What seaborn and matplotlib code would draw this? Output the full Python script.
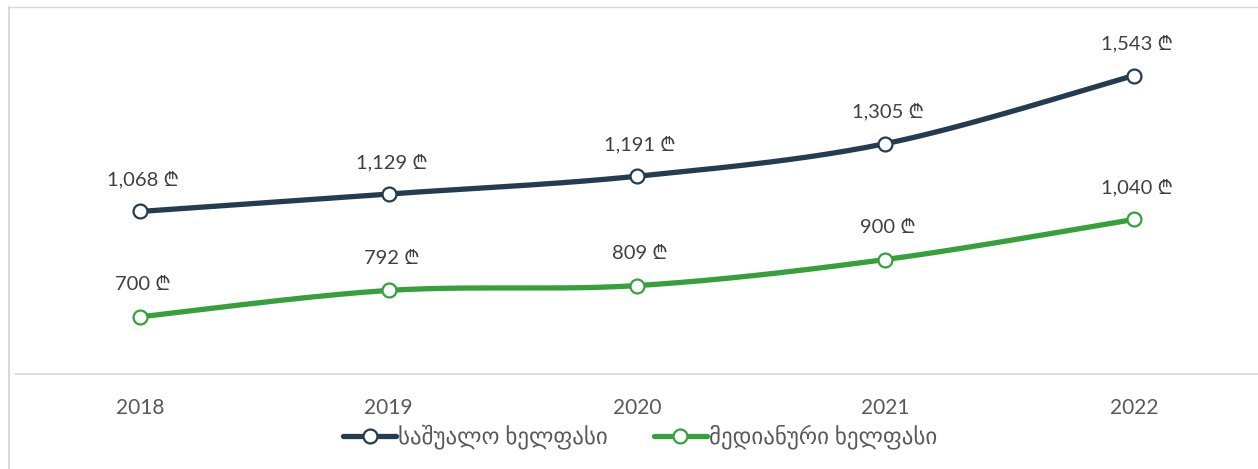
import numpy as np
import matplotlib
matplotlib.use("Agg")
import matplotlib.pyplot as plt
import seaborn as sns
from matplotlib.lines import Line2D

years = ["2018", "2019", "2020", "2021", "2022"]
average_wage = [1068, 1129, 1191, 1305, 1543]
median_wage = [700, 792, 809, 900, 1040]
series_names = ["საშუალო ხელფასი", "მედიანური ხელფასი"]
series_colors = ["#243C4F", "#36A03A"]

FAMILIES = ["Lato", "DejaVu Sans", "Noto Sans", "Inter", "Roboto", "Open Sans", "Liberation Sans"]


def smooth(xs, ys, n=40):
    # bezier through points with catmull-rom control points (like Excel "smoothed line")
    xs = np.asarray(xs, float)
    ys = np.asarray(ys, float)
    pts = np.column_stack([xs, ys])
    pts = np.vstack([pts[0], pts, pts[-1]])
    t = np.linspace(0, 1, n)[:, None]
    out = []
    for i in range(1, len(pts) - 2):
        p0, p1, p2, p3 = pts[i - 1], pts[i], pts[i + 1], pts[i + 2]
        c1 = p1 + (p2 - p0) / 6
        c2 = p2 - (p3 - p1) / 6
        seg = ((1 - t) ** 3) * p1 + 3 * ((1 - t) ** 2) * t * c1 + 3 * (1 - t) * t ** 2 * c2 + t ** 3 * p2
        out.append(seg if i == 1 else seg[1:])
    out = np.vstack(out)
    return out[:, 0], out[:, 1]


sns.set_style("white")
plt.rcParams["font.family"] = FAMILIES

fig = plt.figure(figsize=(12.58, 4.69), dpi=100)
ax = fig.add_axes([16 / 1258, 95 / 469, 1 - 16 / 1258, 1 - 95 / 469 - 2 / 469])

xpos = np.arange(len(years))
for vals, name, col in zip([average_wage, median_wage], series_names, series_colors):
    sx, sy = smooth(xpos, vals)
    sns.lineplot(x=sx, y=sy, ax=ax, color=col, lw=3.8, sort=False, estimator=None, zorder=2)
    ax.plot(xpos, vals, ls="none", marker="o", ms=10, mfc="white", mec=col, mew=1.6, zorder=3)
    for x, v in zip(xpos, vals):
        ax.annotate(f"{v:,} ₾", (x, v), xytext=(2, 23), textcoords="offset points",
                    ha="center", va="center", fontsize=14.5, color="#404040",
                    family=FAMILIES)

ax.set_xlim(-0.5, len(years) - 0.5)
ax.set_ylim(500, 1800)
ax.set_xticks(xpos)
ax.set_xticklabels(years)
ax.set_yticks([])
ax.tick_params(axis="x", length=0, pad=17, labelsize=15, labelcolor="#595959")
for s in ["top", "right", "left"]:
    ax.spines[s].set_visible(False)
ax.spines["bottom"].set_color("#D9D9D9")
ax.spines["bottom"].set_linewidth(1.3)
ax.set_xlabel("")
ax.set_ylabel("")

handles = [Line2D([0], [0], color=c, lw=3.8, marker="o", ms=10, mfc="white", mec=c, mew=1.6)
           for c in series_colors]
fig.legend(handles, series_names, loc="center", bbox_to_anchor=(0.509, 1 - 437 / 469),
           ncol=2, frameon=False, fontsize=16.5, handlelength=2.3, handletextpad=0.1,
           columnspacing=2.0, labelcolor="#595959")

# light chart frame at left/top
bx, by = 8.5 / 1258, 1 - 7.5 / 469
fig.add_artist(Line2D([bx, bx], [0, by], color="#D9D9D9", lw=1.5))
fig.add_artist(Line2D([bx, 1], [by, by], color="#D9D9D9", lw=1.0))

fig.savefig("out.png", dpi=100)
